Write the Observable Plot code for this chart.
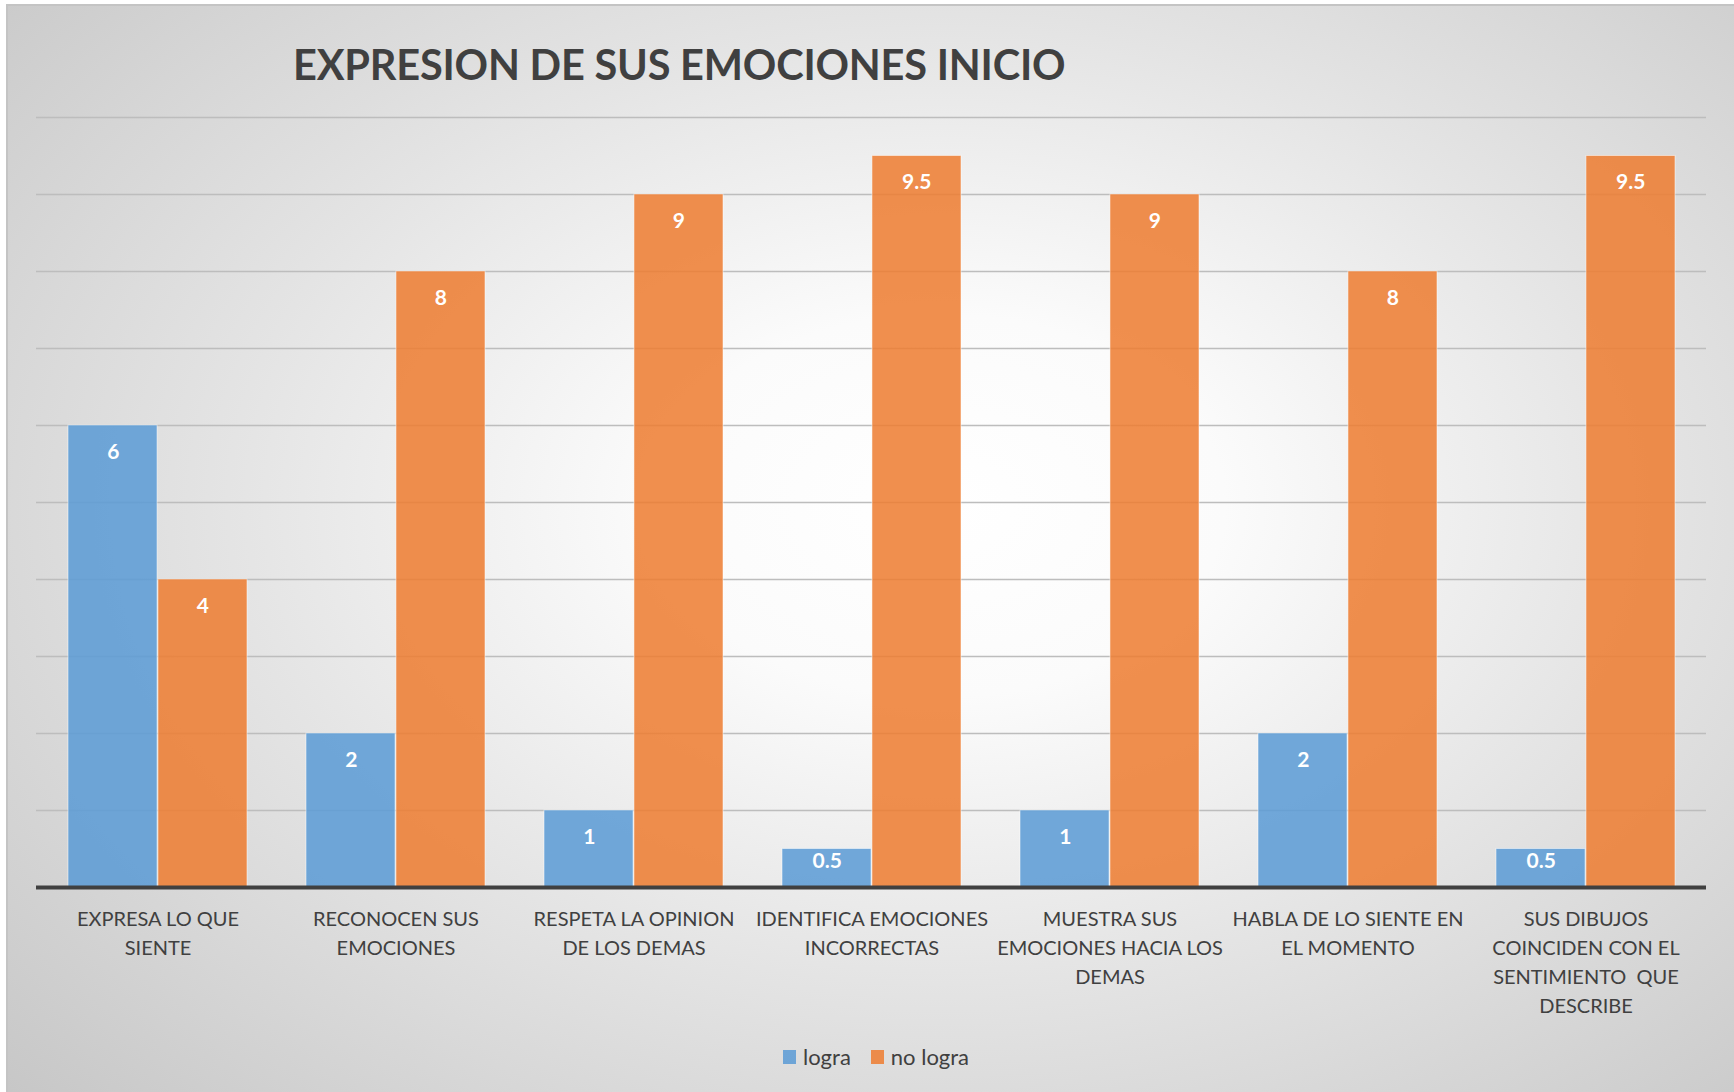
<!DOCTYPE html>
<html>
<head>
<meta charset="utf-8">
<script src="https://cdn.jsdelivr.net/npm/d3@7"></script>
<script src="https://cdn.jsdelivr.net/npm/@observablehq/plot@0.6"></script>
<style>
  html, body { margin: 0; padding: 0; background: #ffffff; }
  #page { position: relative; width: 1734px; height: 1092px; overflow: hidden; font-family: Lato, "Open Sans", sans-serif; }
  #bg { position: absolute; left: 6px; top: 4px; width: 1728px; height: 1088px;
        border-top: 2px solid #c4c4c4; border-left: 2px solid #c4c4c4; box-sizing: border-box;
        background: radial-gradient(ellipse 75% 80% at 54% 46%, #ffffff 0%, #fbfbfb 22%, #e4e4e4 55%, #c6c6c6 100%); }
  #title { position: absolute; left: 293px; top: 39px; font-size: 41.5px; font-weight: 700; color: #404040; white-space: nowrap; letter-spacing: -0.2px; }
  #chart { position: absolute; left: 0; top: 0; }
  #legend { position: absolute; left: 783px; top: 1043px; display: flex; align-items: center; font-size: 22px; color: #404040; }
  .sw { width: 13px; height: 14px; display: inline-block; margin-right: 7px; }
  .item { display: flex; align-items: center; margin-right: 20px; }
</style>
</head>
<body>
<div id="page">
  <div id="bg"></div>
  <div id="title"></div>
  <div id="chart"></div>
  <div id="legend"></div>
</div>
<script>
const titleText = "EXPRESION DE SUS EMOCIONES INICIO";
const categories = [
  "EXPRESA LO QUE SIENTE",
  "RECONOCEN SUS EMOCIONES",
  "RESPETA LA OPINION DE LOS DEMAS",
  "IDENTIFICA EMOCIONES INCORRECTAS",
  "MUESTRA SUS EMOCIONES HACIA LOS DEMAS",
  "HABLA DE LO SIENTE EN EL MOMENTO",
  "SUS DIBUJOS COINCIDEN CON EL SENTIMIENTO  QUE DESCRIBE"
];
const tickLabels = [
  "EXPRESA LO QUE\nSIENTE",
  "RECONOCEN SUS\nEMOCIONES",
  "RESPETA LA OPINION\nDE LOS DEMAS",
  "IDENTIFICA EMOCIONES\nINCORRECTAS",
  "MUESTRA SUS\nEMOCIONES HACIA LOS\nDEMAS",
  "HABLA DE LO SIENTE EN\nEL MOMENTO",
  "SUS DIBUJOS\nCOINCIDEN CON EL\nSENTIMIENTO  QUE\nDESCRIBE"
];
const seriesNames = ["logra", "no logra"];
const logra = [6, 2, 1, 0.5, 1, 2, 0.5];
const noLogra = [4, 8, 9, 9.5, 9, 8, 9.5];
const yGrid = [1, 2, 3, 4, 5, 6, 7, 8, 9, 10];
const colors = ["#5B9BD5", "#ED7D31"];

document.getElementById("title").textContent = titleText;

const rowsA = categories.map((c, i) => ({cat: c, series: seriesNames[0], v: logra[i]}));
const rowsB = categories.map((c, i) => ({cat: c, series: seriesNames[1], v: noLogra[i]}));

const W = 1734, H = 1092;
const mL = 36, mR = 28, mT = 117, mB = 205;
const pIn = 0.25, pOut = 0.125;
const xOpts = {type: "band", domain: categories, range: [mL, W - mR], paddingInner: pIn, paddingOuter: pOut};
const bw = Plot.scale({x: xOpts}).bandwidth;
const half = bw / 2;
const labelMap = new Map(categories.map((c, i) => [c, tickLabels[i]]));
const labelY = d => Math.max(d.v - 0.344, 0.344);

const plot = Plot.plot({
  width: W,
  height: H,
  marginLeft: mL,
  marginRight: mR,
  marginTop: mT,
  marginBottom: mB,
  style: {background: "transparent", fontFamily: "Lato, 'Open Sans', sans-serif", overflow: "visible"},
  x: {domain: categories, paddingInner: pIn, paddingOuter: pOut, axis: null},
  y: {domain: [0, 10], axis: null},
  marks: [
    Plot.ruleY(yGrid, {stroke: "#bdbdbd", strokeWidth: 1.5}),
    Plot.barY(rowsA, {x: "cat", y: "v", fill: colors[0], fillOpacity: 0.86, stroke: "#ffffff", strokeOpacity: 0.5, strokeWidth: 1, insetRight: half + 0.5}),
    Plot.barY(rowsB, {x: "cat", y: "v", fill: colors[1], fillOpacity: 0.86, stroke: "#ffffff", strokeOpacity: 0.5, strokeWidth: 1, insetLeft: half + 0.5}),
    Plot.text(rowsA, {x: "cat", y: labelY, text: d => String(d.v), dx: -half / 2, fill: "#ffffff", fontSize: 21, fontWeight: 700}),
    Plot.text(rowsB, {x: "cat", y: labelY, text: d => String(d.v), dx: half / 2, fill: "#ffffff", fontSize: 21, fontWeight: 700}),
    Plot.ruleY([0], {stroke: "#404040", strokeWidth: 4}),
    Plot.axisX({tickSize: 0, tickPadding: 18, label: null, tickFormat: c => labelMap.get(c), fontSize: 20, fill: "#404040", lineHeight: 1.45, textAnchor: "middle"})
  ]
});
document.getElementById("chart").appendChild(plot);

const legend = document.getElementById("legend");
seriesNames.forEach((s, i) => {
  const item = document.createElement("span");
  item.className = "item";
  const sw = document.createElement("span");
  sw.className = "sw";
  sw.style.background = colors[i];
  sw.style.opacity = 0.86;
  item.appendChild(sw);
  item.appendChild(document.createTextNode(s));
  legend.appendChild(item);
});
</script>
</body>
</html>
